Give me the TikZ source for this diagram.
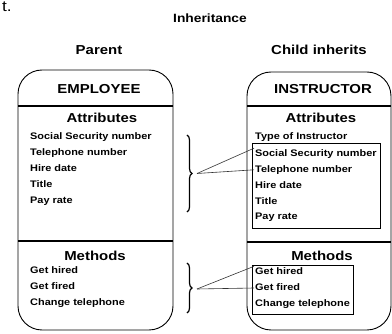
\documentclass[tikz,border=0pt]{standalone}
\usepackage{fontspec}
\setmainfont{Liberation Sans}[FakeStretch=1.15]
\usetikzlibrary{decorations.pathreplacing,fit}

\begin{document}
\begin{tikzpicture}[x=1pt,y=-1pt,
  head/.style={font=\bfseries\fontsize{13}{13}\selectfont},
  item/.style={anchor=west,inner sep=1pt,text height=7pt,text depth=2pt,
    font=\bfseries\fontsize{9.5}{10}\selectfont},
  frame/.style={line width=.9pt,rounded corners=24pt},
  brc/.style={decorate,decoration={brace,amplitude=5pt},line width=1.2pt},
  link/.style={line width=.6pt,draw=black!80},
  inh/.style={draw,line width=.6pt,inner xsep=2pt,inner ysep=5pt}]

\useasboundingbox (0,0) rectangle (392,334);

\node[anchor=north west,inner sep=1pt,font=\fontsize{15}{15}\selectfont] (frag) at (1,1) {t.};
\node[head,font=\bfseries\fontsize{12}{12}\selectfont] (title) at (210,18) {Inheritance};

% parent class
\node[head] (parent) at (99,50) {Parent};
\draw[frame] (18,200) -- (18,70) -- (173,70) -- (173,330) -- (18,330) -- cycle;
\draw[line width=1.2pt] (18,106) -- (173,106);
\draw[line width=1.2pt] (18,241) -- (173,241);
\node[head] (emp) at (99,89) {EMPLOYEE};
\node[head] (pattr) at (102,118) {Attributes};
\node[head] (pmeth) at (95,256) {Methods};

\foreach \t [count=\i] in {Social Security number,Telephone number,Hire date,Title,Pay rate}{%
    \node[item] (pa\i) at (29,121+16*\i) {\t};}
\foreach \t [count=\i] in {Get hired,Get fired,Change telephone}{%
    \node[item] (pm\i) at (29,255+16*\i) {\t};}

% child class
\node[head] (child) at (319,50) {Child inherits};
\draw[frame] (247,200) -- (247,72) -- (391,72) -- (391,330) -- (247,330) -- cycle;
\draw[line width=1.2pt] (247,106) -- (391,106);
\draw[line width=1.2pt] (247,242) -- (391,242);
\node[head] (inst) at (323,89) {INSTRUCTOR};
\node[head] (cattr) at (321,118) {Attributes};
\node[head] (cmeth) at (322,256) {Methods};

\node[item] (ctype) at (254,137) {Type of Instructor};
\foreach \t [count=\i] in {Social Security number,Telephone number,Hire date,Title,Pay rate}{%
    \node[item] (ca\i) at (254,138+15.9*\i) {\t};}
\foreach \t [count=\i] in {Get hired,Get fired,Change telephone}{%
    \node[item] (cm\i) at (254,256+16*\i) {\t};}

\node[inh,fit=(ca1)(ca5)] (inhattr) {};
\node[inh,inner ysep=3pt,yshift=-2pt,fit=(cm1)(cm3)] (inhmeth) {};

% braces and links
\draw[brc] (187,135) -- (187,212);
\draw[brc] (187,263) -- (187,313);
\coordinate (attrtip) at (197,173.5);
\coordinate (methtip) at (197,289);

\draw[link] (attrtip) -- (ca1.north west);
\draw[link] (attrtip) -- (ca2.west);
\draw[link] (methtip) -- (cm1.north west);
\draw[link] (methtip) -- (cm2.west);

\end{tikzpicture}
\end{document}
